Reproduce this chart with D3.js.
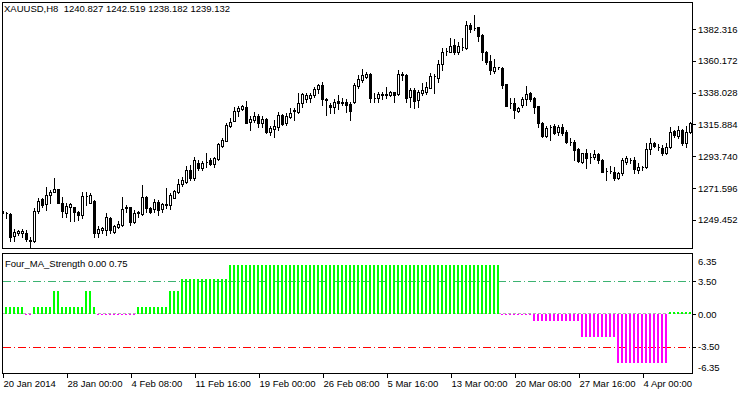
<!DOCTYPE html>
<html>
<head>
<meta charset="utf-8">
<script src="https://cdn.jsdelivr.net/npm/d3@7"></script>
<style>
  body { margin: 0; background: #fff; }
  svg { display: block; font-family: "Liberation Sans", Arial, sans-serif; font-size: 9.5px; }
  text { white-space: pre; }
</style>
</head>
<body>
<script>
// XAUUSD H8 candles, first bar 20 Jan 2014 16:00
var opens = [
  1255.6, 1254.2, 1253.5, 1238.2, 1240.1, 1240.1, 1240.5, 1234.9, 1234.9, 1255.6,
  1263.8, 1260.5, 1266.8, 1269.1, 1270.7, 1261.0, 1254.4, 1258.2, 1258.2, 1255.1,
  1252.8, 1266.1, 1261.4, 1262.8, 1240.5, 1242.4, 1242.4, 1250.5, 1241.2, 1244.6,
  1245.8, 1257.7, 1258.2, 1248.1, 1254.4, 1253.5, 1265.2, 1257.5, 1256.8, 1262.1,
  1256.8, 1259.8, 1259.8, 1264.5, 1269.1, 1274.4, 1275.8, 1284.1, 1278.4, 1289.2,
  1285.3, 1289.7, 1291.1, 1288.3, 1291.8, 1300.9, 1304.6, 1315.0, 1318.5, 1325.2,
  1326.6, 1327.8, 1317.4, 1319.0, 1321.8, 1316.7, 1319.5, 1310.4, 1312.7, 1314.3,
  1322.5, 1316.7, 1321.3, 1325.4, 1324.8, 1330.6, 1333.6, 1334.1, 1336.4, 1340.3,
  1343.3, 1333.4, 1329.4, 1327.8, 1332.4, 1331.3, 1331.7, 1330.1, 1331.7, 1342.9,
  1346.8, 1349.1, 1351.0, 1334.1, 1334.1, 1336.9, 1336.6, 1336.4, 1338.3, 1336.9,
  1350.8, 1350.3, 1334.8, 1339.9, 1332.9, 1337.6, 1338.3, 1341.5, 1349.6, 1348.4,
  1357.8, 1367.0, 1366.5, 1371.2, 1366.1, 1370.0, 1368.9, 1385.1, 1383.2, 1383.5,
  1378.2, 1366.5, 1360.1, 1353.3, 1355.7, 1355.4, 1343.8, 1331.0, 1330.6, 1325.2,
  1329.4, 1333.4, 1337.6, 1334.1, 1328.7, 1317.1, 1307.8, 1314.3, 1314.8, 1310.8,
  1313.9, 1310.8, 1303.8, 1303.8, 1298.6, 1289.9, 1295.8, 1293.4, 1293.4, 1295.3,
  1291.1, 1283.4, 1283.4, 1282.9, 1278.4, 1281.8, 1289.9, 1291.1, 1291.1, 1284.1,
  1286.5, 1286.0, 1298.6, 1303.1, 1300.0, 1299.3, 1295.8, 1300.0, 1311.5, 1307.8,
  1312.0, 1302.7, 1310.8
];
var highs = [
  1256.3, 1254.9, 1254.0, 1242.8, 1242.4, 1242.8, 1242.4, 1237.3, 1257.9, 1264.5,
  1264.5, 1272.5, 1270.2, 1278.4, 1270.9, 1265.6, 1261.0, 1261.4, 1258.6, 1255.3,
  1269.1, 1269.1, 1267.9, 1263.3, 1245.1, 1244.6, 1254.0, 1251.6, 1245.8, 1248.6,
  1265.5, 1259.8, 1258.4, 1256.3, 1255.8, 1273.7, 1266.1, 1258.6, 1263.8, 1263.3,
  1261.4, 1271.4, 1267.9, 1270.2, 1277.7, 1279.3, 1286.9, 1287.6, 1293.4, 1291.1,
  1290.4, 1295.8, 1292.3, 1293.4, 1303.1, 1306.2, 1316.7, 1320.2, 1328.2, 1328.9,
  1329.4, 1332.2, 1321.8, 1324.8, 1322.9, 1321.8, 1320.2, 1314.8, 1319.0, 1324.8,
  1322.9, 1324.1, 1327.1, 1327.1, 1337.6, 1338.0, 1337.6, 1337.6, 1342.2, 1344.0,
  1345.6, 1334.1, 1331.0, 1333.4, 1336.4, 1334.1, 1333.4, 1331.7, 1344.5, 1350.3,
  1354.5, 1352.2, 1351.5, 1337.6, 1338.3, 1338.3, 1342.2, 1339.2, 1338.7, 1353.8,
  1352.6, 1350.8, 1341.0, 1341.5, 1339.9, 1344.5, 1345.6, 1351.5, 1350.8, 1360.8,
  1368.9, 1368.9, 1375.9, 1375.4, 1373.5, 1375.9, 1387.9, 1386.3, 1392.1, 1383.8,
  1378.7, 1367.0, 1364.2, 1361.4, 1356.1, 1355.6, 1344.0, 1334.1, 1334.1, 1328.2,
  1334.8, 1342.6, 1338.5, 1334.8, 1328.9, 1317.8, 1314.8, 1315.5, 1316.2, 1315.5,
  1316.2, 1312.0, 1306.2, 1305.0, 1299.3, 1296.2, 1298.6, 1296.2, 1298.1, 1296.2,
  1291.6, 1285.3, 1286.9, 1286.0, 1282.9, 1292.3, 1293.9, 1292.3, 1293.4, 1288.8,
  1286.9, 1302.7, 1306.2, 1303.8, 1302.3, 1301.6, 1302.7, 1314.3, 1312.0, 1314.8,
  1312.5, 1314.8, 1317.8
];
var lows = [
  1253.5, 1250.7, 1234.9, 1234.9, 1238.9, 1237.3, 1234.9, 1230.7, 1234.2, 1254.0,
  1258.2, 1256.3, 1261.0, 1268.8, 1260.8, 1251.6, 1251.6, 1248.8, 1248.8, 1249.3,
  1250.5, 1259.8, 1261.0, 1237.7, 1237.3, 1240.1, 1238.9, 1240.1, 1240.5, 1243.5,
  1245.1, 1255.1, 1245.8, 1247.4, 1251.6, 1252.8, 1255.1, 1254.4, 1255.1, 1252.8,
  1255.1, 1257.5, 1256.8, 1264.3, 1268.4, 1273.0, 1275.1, 1277.2, 1277.2, 1284.1,
  1284.1, 1286.5, 1287.6, 1286.5, 1291.1, 1300.4, 1304.3, 1314.3, 1318.3, 1321.8,
  1325.9, 1316.7, 1312.0, 1317.8, 1314.3, 1314.3, 1309.7, 1308.5, 1307.3, 1312.0,
  1315.5, 1315.5, 1320.2, 1319.0, 1324.1, 1328.2, 1331.7, 1331.7, 1335.2, 1337.6,
  1329.4, 1322.5, 1323.6, 1323.6, 1326.4, 1329.4, 1324.8, 1319.0, 1330.6, 1341.5,
  1345.2, 1348.0, 1331.3, 1331.3, 1331.7, 1333.6, 1334.1, 1335.9, 1331.3, 1336.4,
  1346.8, 1331.3, 1328.2, 1327.5, 1328.2, 1336.4, 1336.9, 1341.0, 1337.6, 1345.6,
  1353.8, 1364.2, 1366.1, 1364.7, 1364.7, 1367.7, 1368.7, 1380.5, 1381.6, 1374.0,
  1360.8, 1357.8, 1350.8, 1351.5, 1354.5, 1341.0, 1328.7, 1327.1, 1320.2, 1324.3,
  1327.8, 1329.4, 1332.4, 1324.1, 1313.9, 1307.3, 1307.3, 1305.0, 1309.2, 1308.5,
  1308.5, 1303.1, 1301.6, 1291.1, 1289.9, 1289.2, 1285.3, 1289.2, 1291.6, 1289.2,
  1282.7, 1277.2, 1282.2, 1277.2, 1277.7, 1280.7, 1288.3, 1288.8, 1281.8, 1281.8,
  1284.1, 1285.3, 1295.3, 1300.0, 1298.1, 1294.6, 1295.3, 1299.3, 1306.9, 1306.2,
  1301.6, 1300.4, 1310.1
];
var closes = [
  1254.2, 1253.9, 1237.7, 1241.2, 1241.9, 1241.9, 1235.9, 1235.2, 1255.6, 1262.8,
  1259.8, 1266.8, 1269.1, 1270.7, 1261.0, 1255.6, 1259.1, 1260.3, 1255.1, 1252.8,
  1266.1, 1265.8, 1266.8, 1240.5, 1242.8, 1243.5, 1251.2, 1242.4, 1245.1, 1246.5,
  1256.8, 1258.2, 1248.1, 1254.4, 1254.7, 1265.2, 1257.5, 1255.1, 1262.1, 1256.3,
  1260.3, 1260.3, 1266.8, 1269.8, 1274.4, 1277.2, 1284.1, 1278.4, 1291.1, 1285.3,
  1289.2, 1289.9, 1288.3, 1292.3, 1302.3, 1305.0, 1315.5, 1317.6, 1325.2, 1327.1,
  1328.7, 1317.1, 1319.5, 1321.8, 1316.7, 1319.5, 1310.8, 1313.2, 1314.8, 1322.5,
  1316.2, 1321.8, 1324.1, 1325.7, 1330.6, 1337.1, 1336.4, 1336.4, 1340.3, 1343.3,
  1333.4, 1333.1, 1327.8, 1331.7, 1330.6, 1331.0, 1329.4, 1325.4, 1343.3, 1347.5,
  1350.3, 1351.0, 1334.1, 1334.0, 1336.9, 1336.6, 1336.9, 1338.3, 1336.4, 1350.8,
  1350.3, 1334.5, 1339.9, 1332.2, 1338.3, 1339.9, 1342.2, 1349.8, 1349.5, 1357.8,
  1366.1, 1366.9, 1370.7, 1366.5, 1370.7, 1370.1, 1385.1, 1382.1, 1383.3, 1377.7,
  1366.5, 1359.6, 1353.8, 1355.7, 1355.6, 1343.3, 1328.9, 1330.9, 1325.9, 1327.1,
  1333.4, 1337.1, 1333.4, 1328.2, 1317.1, 1307.8, 1313.6, 1314.2, 1310.1, 1313.9,
  1309.7, 1303.8, 1303.7, 1298.1, 1290.6, 1295.8, 1292.3, 1293.3, 1295.3, 1291.1,
  1282.9, 1283.3, 1283.5, 1278.4, 1281.8, 1291.1, 1292.3, 1291.2, 1284.6, 1286.0,
  1286.4, 1298.6, 1302.7, 1300.9, 1300.1, 1296.2, 1300.0, 1310.8, 1308.5, 1312.0,
  1302.7, 1310.8, 1316.7
];

// Four_MA_Strength histogram, one value per bar
var strength = [
  0.75, 0.75, 0.75, 0.75, 0.75, 0.75, -0.15, -0.15, 0.75, 0.75,
  0.75, 0.75, 0.75, 2.5, 2.5, 0.75, 0.75, 0.75, 0.75, 0.75,
  0.75, 2.5, 2.5, 0.75, -0.15, -0.15, -0.15, -0.15, -0.15, -0.15,
  -0.15, -0.15, -0.15, -0.15, 0.75, 0.75, 0.75, 0.75, 0.75, 0.75,
  0.75, 0.75, 2.5, 2.5, 2.5, 3.75, 3.75, 3.75, 3.75, 3.75,
  3.75, 3.75, 3.75, 3.75, 3.75, 3.75, 3.75, 5.25, 5.25, 5.25,
  5.25, 5.25, 5.25, 5.25, 5.25, 5.25, 5.25, 5.25, 5.25, 5.25,
  5.25, 5.25, 5.25, 5.25, 5.25, 5.25, 5.25, 5.25, 5.25, 5.25,
  5.25, 5.25, 5.25, 5.25, 5.25, 5.25, 5.25, 5.25, 5.25, 5.25,
  5.25, 5.25, 5.25, 5.25, 5.25, 5.25, 5.25, 5.25, 5.25, 5.25,
  5.25, 5.25, 5.25, 5.25, 5.25, 5.25, 5.25, 5.25, 5.25, 5.25,
  5.25, 5.25, 5.25, 5.25, 5.25, 5.25, 5.25, 5.25, 5.25, 5.25,
  5.25, 5.25, 5.25, 5.25, 5.25, -0.15, -0.15, -0.15, -0.15, -0.15,
  -0.15, -0.15, -0.15, -0.75, -0.75, -0.75, -0.75, -0.75, -0.75, -0.75,
  -0.75, -0.75, -0.75, -0.75, -0.75, -2.5, -2.5, -2.5, -2.5, -2.5,
  -2.5, -2.5, -2.5, -2.5, -5.25, -5.25, -5.25, -5.25, -5.25, -5.25,
  -5.25, -5.25, -5.25, -5.25, -5.25, -5.25, -5.25, 0.2, 0.2, 0.2,
  0.2, 0.2, 0.2
];

var priceTicks = [1382.316, 1360.172, 1338.028, 1315.884, 1293.740, 1271.596, 1249.452];
var strengthTicks = [6.35, 3.5, 0, -3.5, -6.35];
var dateTickBars = [0, 16, 32, 48, 64, 80, 96, 112, 128, 144, 160];
var dateLabels = ['20 Jan 2014', '28 Jan 00:00', '4 Feb 08:00', '11 Feb 16:00', '19 Feb 00:00',
  '26 Feb 08:00', '5 Mar 16:00', '13 Mar 00:00', '20 Mar 08:00', '27 Mar 16:00', '4 Apr 00:00'];

var chartTitle = 'XAUUSD,H8  1240.827 1242.519 1238.182 1239.132';
var indicatorTitle = 'Four_MA_Strength 0.00 0.75';

var width = 750;
var height = 394;
var fontFamily = '"Liberation Sans", Arial, sans-serif';

function snap(v) { return Math.round(v) + 0.5; }

var svg = d3.select('body')
  .append('svg')
    .attr('width', width)
    .attr('height', height);

svg.append('rect').attr('width', width).attr('height', height).attr('fill', '#fff');

var n = opens.length;
var x = d3.scaleLinear()
    .domain([0, n - 1])
    .range([2.5, 2.5 + 4 * (n - 1)]);

var y = d3.scaleLinear()
    .domain([1229.1, 1401.1])
    .range([249, 2]);

var y2 = d3.scaleLinear()
    .domain([-6.35, 6.35])
    .range([373.5, 254.5]);

// clip areas for both panels
var defs = svg.append('defs');
defs.append('clipPath').attr('id', 'main-clip')
  .append('rect').attr('x', 2).attr('y', 3).attr('width', 690).attr('height', 245);
defs.append('clipPath').attr('id', 'sub-clip')
  .append('rect').attr('x', 3).attr('y', 254).attr('width', 689).attr('height', 119);

// candles
var candles = svg.append('g')
  .attr('clip-path', 'url(#main-clip)')
  .attr('shape-rendering', 'crispEdges');

var idx = d3.range(n);

candles.selectAll('line')
  .data(idx)
  .join('line')
    .attr('x1', function(i) { return x(i); })
    .attr('x2', function(i) { return x(i); })
    .attr('y1', function(i) { return Math.round(y(highs[i])); })
    .attr('y2', function(i) { return Math.round(y(lows[i])) + 1; })
    .attr('stroke', '#000');

candles.selectAll('path')
  .data(idx)
  .join('path')
    .attr('d', function(i) {
      var top = Math.round(y(Math.max(opens[i], closes[i])));
      var bot = Math.round(y(Math.min(opens[i], closes[i])));
      return 'M' + (x(i) - 1) + ',' + (top + 0.5) + 'h2v' + (bot - top) + 'h-2z';
    })
    .attr('fill', function(i) { return closes[i] >= opens[i] ? '#fff' : '#000'; })
    .attr('stroke', '#000');

// indicator levels
var levels = svg.append('g').attr('shape-rendering', 'crispEdges');
levels.append('line')
  .attr('x1', 3).attr('x2', 692)
  .attr('y1', snap(y2(0)) - 1).attr('y2', snap(y2(0)) - 1)
  .attr('stroke', '#b4b4b4').attr('stroke-dasharray', '3,2');
levels.append('line')
  .attr('x1', 3).attr('x2', 692)
  .attr('y1', snap(y2(3.5))).attr('y2', snap(y2(3.5)))
  .attr('stroke', '#3cb371').attr('stroke-dasharray', '8,3,1,3');
levels.append('line')
  .attr('x1', 3).attr('x2', 692)
  .attr('y1', snap(y2(-3.5))).attr('y2', snap(y2(-3.5)))
  .attr('stroke', '#ff0000').attr('stroke-dasharray', '8,3,1,3');

// histogram
svg.append('g')
  .attr('clip-path', 'url(#sub-clip)')
  .attr('shape-rendering', 'crispEdges')
  .selectAll('rect')
  .data(idx)
  .join('rect')
    .attr('x', function(i) { return x(i) - 1.5; })
    .attr('width', 2)
    .attr('y', function(i) { return Math.round(Math.min(y2(strength[i]), y2(0))); })
    .attr('height', function(i) { return Math.max(1, Math.round(Math.abs(y2(strength[i]) - y2(0)))); })
    .attr('fill', function(i) { return strength[i] >= 0 ? '#00ff00' : '#ff00ff'; });

// panel frames
var frames = svg.append('g').attr('shape-rendering', 'crispEdges')
  .attr('fill', 'none').attr('stroke', '#000');
frames.append('rect').attr('x', 2.5).attr('y', 2.5).attr('width', 690).attr('height', 246);
frames.append('rect').attr('x', 2.5).attr('y', 253.5).attr('width', 690).attr('height', 120);

// price axis
var priceAxis = svg.append('g')
  .attr('transform', 'translate(692,0)')
  .call(d3.axisRight(y).tickValues(priceTicks).tickSize(4).tickPadding(2)
    .tickFormat(function(d) { return d.toFixed(3); }));
priceAxis.select('.domain').remove();

// strength axis
var strengthAxis = svg.append('g')
  .attr('transform', 'translate(692,0)')
  .call(d3.axisRight(y2).tickValues(strengthTicks).tickSize(4).tickPadding(2)
    .tickFormat(function(d) { return d.toFixed(2); }));
strengthAxis.select('.domain').remove();
strengthAxis.selectAll('.tick')
  .filter(function(d) { return Math.abs(d) > 6; })
  .select('line').remove();
strengthAxis.selectAll('.tick text')
  .attr('y', function(d) { return d > 6 ? 6.5 : (d < -6 ? -6.5 : 0); });

// date axis
var dateAxis = svg.append('g')
  .attr('transform', 'translate(0,373)')
  .call(d3.axisBottom(x).tickValues(dateTickBars).tickSize(5)
    .tickFormat(function(d, i) { return dateLabels[i]; }));
dateAxis.select('.domain').remove();
dateAxis.selectAll('.tick text')
  .attr('text-anchor', 'start')
  .attr('x', 0.5)
  .attr('y', 7);

svg.selectAll('.tick line').attr('shape-rendering', 'crispEdges');
[priceAxis, strengthAxis, dateAxis].forEach(function(g) {
  g.attr('font-family', fontFamily).attr('font-size', 9.5);
});

// titles
svg.append('text')
  .attr('x', 4).attr('y', 12)
  .attr('font-size', 9.5)
  .text(chartTitle);
svg.append('text')
  .attr('x', 5).attr('y', 267)
  .attr('font-size', 9.5)
  .text(indicatorTitle);
</script>
</body>
</html>
